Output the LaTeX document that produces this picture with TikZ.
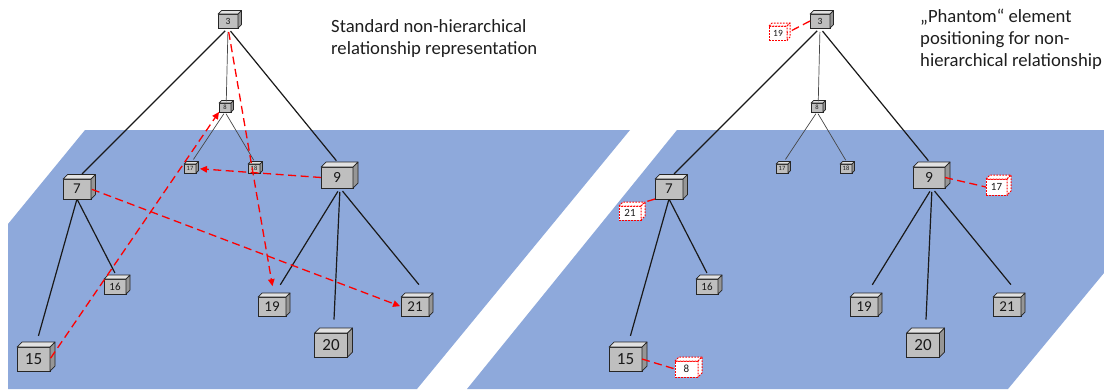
\documentclass[tikz,border=0pt]{standalone}
\usepackage{fontspec}
\setmainfont{Carlito}
\usetikzlibrary{arrows.meta}

\definecolor{planeblue}{RGB}{142,169,219}
\definecolor{linkred}{RGB}{255,0,0}
\definecolor{cubefront}{RGB}{191,191,191}
\definecolor{cubetop}{RGB}{226,226,226}
\definecolor{cubeside}{RGB}{150,150,150}
\definecolor{inkgray}{RGB}{70,70,70}
\definecolor{textink}{RGB}{30,30,30}

\tikzset{
  cube/.style={draw=black!85, line width=0.7pt, fill=cubefront, inner sep=0pt, outer sep=0pt, text=black!90},
  solidtop/.style={draw=black!85, line width=0.7pt, fill=cubetop, line join=round},
  solidside/.style={draw=black!85, line width=0.7pt, fill=cubeside, line join=round},
  ghost/.style={draw=linkred, dash pattern=on 1.8pt off 1.2pt, line width=1pt, fill=white, inner sep=0pt, outer sep=0pt, text=black!90},
  ghosttop/.style={draw=linkred, dash pattern=on 1.8pt off 1.2pt, line width=1pt, fill=white, line join=round},
  ghostside/.style={draw=linkred, dash pattern=on 1.8pt off 1.2pt, line width=1pt, fill=white, line join=round},
  s3/.style={minimum width=20pt, minimum height=14pt, font=\fontsize{9.5}{9.5}\selectfont},
  s8/.style={minimum width=12pt, minimum height=9pt, font=\fontsize{6.5}{6.5}\selectfont},
  s16/.style={minimum width=22pt, minimum height=15pt, font=\fontsize{11}{11}\selectfont},
  smid/.style={minimum width=28pt, minimum height=19pt, font=\fontsize{15}{15}\selectfont},
  s7/.style={minimum width=28pt, minimum height=20pt, font=\fontsize{15}{15}\selectfont},
  s9/.style={minimum width=32pt, minimum height=21pt, font=\fontsize{15.5}{15.5}\selectfont},
  sbig/.style={minimum width=33pt, minimum height=24pt, font=\fontsize{17}{17}\selectfont},
  tree/.style={draw=black!90, line width=1.2pt},
  subtree/.style={draw=inkgray, line width=0.7pt},
  link/.style={draw=linkred, line width=1.3pt, dash pattern=on 8pt off 4.5pt},
  linkarrow/.style={link, -{Triangle[length=7pt,width=6.5pt]}},
  caption/.style={anchor=base west, inner sep=0pt, text=textink, font=\fontsize{18.67}{22}\selectfont},
}

% a box with a visible top and right face
% #1 front style, #2 face style prefix, #3 name, #4 x, #5 y, #6 depth, #7 label
\newcommand\cubebox[7]{%
  \node[#1] (#3) at (#4,#5) {#7};
  \path[#2top] (#3.north west) -- ([shift={(#6,-#6)}]#3.north west)
    -- ([shift={(#6,-#6)}]#3.north east) -- (#3.north east) -- cycle;
  \path[#2side] (#3.north east) -- ([shift={(#6,-#6)}]#3.north east)
    -- ([shift={(#6,-#6)}]#3.south east) -- (#3.south east) -- cycle;
  \coordinate (#3-top) at ([shift={(#6/2,-#6/2)}]#3.north);
}

% the element hierarchy, nodes named with prefix #1
\newcommand\hierarchy[1]{%
  \cubebox{cube,s3}{solid}{#1-3}{228}{21}{3.5}{3}
  \cubebox{cube,s8}{solid}{#1-8}{225}{107.5}{2.5}{8}
  \cubebox{cube,s8}{solid}{#1-17}{190}{168.5}{2.5}{17}
  \cubebox{cube,s8}{solid}{#1-18}{254}{168.5}{2.5}{18}
  \cubebox{cube,s9}{solid}{#1-9}{337}{177.5}{5}{9}
  \cubebox{cube,s7}{solid}{#1-7}{77}{189}{4.5}{7}
  \cubebox{cube,s16}{solid}{#1-16}{115}{286.5}{4}{16}
  \cubebox{cube,smid}{solid}{#1-19}{272}{306.5}{4}{19}
  \cubebox{cube,smid}{solid}{#1-21}{415}{306.5}{4}{21}
  \cubebox{cube,sbig}{solid}{#1-20}{331}{345}{5}{20}
  \cubebox{cube,sbig}{solid}{#1-15}{33.5}{359}{5}{15}
  \draw[tree, shorten <=4pt, shorten >=4pt] (#1-3.south) -- (#1-7-top);
  \draw[subtree, shorten <=4pt, shorten >=0.5pt] (#1-3.south) -- (#1-8-top);
  \draw[tree, shorten <=4pt, shorten >=5pt] (#1-3.south) -- (#1-9-top);
  \draw[subtree, shorten <=2pt, shorten >=4pt] (#1-8.south) -- (#1-17-top);
  \draw[subtree, shorten <=2pt, shorten >=3pt] (#1-8.south) -- (#1-18-top);
  \draw[tree, shorten <=1pt, shorten >=9pt] (#1-7.south) -- (#1-15-top);
  \draw[tree, shorten <=1pt, shorten >=4.5pt] (#1-7.south) -- (#1-16-top);
  \draw[tree, shorten <=4pt, shorten >=12pt] ([xshift=3pt]#1-9.south) -- (#1-19-top);
  \draw[tree, shorten <=4pt, shorten >=11pt] ([xshift=3pt]#1-9.south) -- (#1-20-top);
  \draw[tree, shorten <=4pt, shorten >=16pt] ([xshift=3pt]#1-9.south) -- (#1-21.north east);
}

\begin{document}
\begin{tikzpicture}[x=1pt,y=-1pt]
\useasboundingbox (0,0) rectangle (1104,389);
\clip (0,0) rectangle (1104,389);

% the two slanted ground planes
\fill[planeblue] (85,130) -- (630,130) -- (417,389) -- (8,389) -- (8,224) -- cycle;
\fill[planeblue] (677,130) -- (1104,130) -- (1104,273) -- (1008,389) -- (467,389) -- cycle;

% left: links drawn straight across the hierarchy
\hierarchy{l}
\draw[linkarrow, shorten <=4pt, shorten >=9pt] (l-3.south) -- (l-19-top);
\draw[linkarrow, shorten <=1pt] (l-15.east) -- (l-8.south west);
\draw[linkarrow, shorten >=4pt] (l-9.west) -- (l-17.east);
\draw[linkarrow, shorten <=1pt, shorten >=1pt] (l-7.east) -- (l-21.west);

% right: links attached to phantom copies next to the source
\begin{scope}[xshift=592pt]
\hierarchy{r}
\end{scope}
\cubebox{ghost, minimum width=18pt, minimum height=14pt, font=\fontsize{9.5}{9.5}\selectfont}{ghost}{p19}{778}{33}{3}{19}
\cubebox{ghost, minimum width=21pt, minimum height=16pt, font=\fontsize{11}{11}\selectfont}{ghost}{p17}{996.5}{187}{4}{17}
\cubebox{ghost, minimum width=22pt, minimum height=14pt, font=\fontsize{11}{11}\selectfont}{ghost}{p21}{630}{213}{4}{21}
\cubebox{ghost, minimum width=23pt, minimum height=16pt, font=\fontsize{11}{11}\selectfont}{ghost}{p8}{686.5}{369}{4}{8}
\draw[link] (r-3.west) -- (p19.east);
\draw[link] (r-9.east) -- (p17.west);
\draw[link] (r-7.south west) -- ([shift={(4,-4)}]p21.north east);
\draw[link] (r-15.east) -- (p8.west);

% captions
\node[caption] (capL1) at (331,32.5) {Standard non-hierarchical};
\node[caption] (capL2) at (331,54) {relationship representation};
\node[caption] (capR1) at (920,22) {„Phantom“ element};
\node[caption] (capR2) at (920,44) {positioning for non-};
\node[caption] (capR3) at (920,66) {hierarchical relationship};
\end{tikzpicture}
\end{document}
